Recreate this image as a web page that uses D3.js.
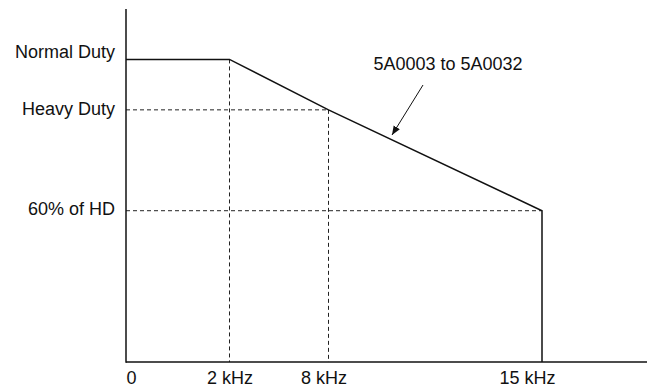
<!DOCTYPE html>
<html><head><meta charset="utf-8">
<script src="https://cdn.jsdelivr.net/npm/d3@7"></script>
<style>html,body{margin:0;padding:0;background:#fff;}svg{display:block;}</style>
</head><body>
<script>
// data
const freqKHz = [0, 2, 8, 15];
const tickLabels = ["0", "2 kHz", "8 kHz", "15 kHz"];
const curveFreq = [0, 2, 8, 15];
const curvePct = [120, 120, 100, 60];
const levelNames = ["Normal Duty", "Heavy Duty", "60% of HD"];
const levelPct = [120, 100, 60];
const seriesName = "5A0003 to 5A0032";

const W = 647, H = 391;
const svg = d3.select("body").append("svg").attr("width", W).attr("height", H);
const font = "Liberation Sans, Arial, sans-serif";

const x = d3.scaleLinear().domain([0, 2, 8, 15]).range([126, 229.5, 328.5, 542]);
const y = d3.scaleLinear().domain([0, 140]).range([362, 9]);

// dashed guide lines
const dash = svg.append("g").attr("stroke", "#222").attr("stroke-width", 1).attr("stroke-dasharray", "4,3").attr("fill", "none");
// vertical at 2 kHz from ND, at 8 kHz from HD
dash.append("line").attr("x1", x(2)).attr("x2", x(2)).attr("y1", y(curvePct[1])).attr("y2", y(0));
dash.append("line").attr("x1", x(8)).attr("x2", x(8)).attr("y1", y(curvePct[2])).attr("y2", y(0));
// horizontal HD and 60%
dash.append("line").attr("x1", x(0)).attr("x2", x(8)).attr("y1", y(levelPct[1])).attr("y2", y(levelPct[1]));
dash.append("line").attr("x1", x(0)).attr("x2", x(15)).attr("y1", y(levelPct[2])).attr("y2", y(levelPct[2]));

// curve
const pts = curveFreq.map((f, i) => [f, curvePct[i]]);
pts.push([15, 0]);
svg.append("path").datum(pts)
  .attr("fill", "none").attr("stroke", "#111").attr("stroke-width", 1.5)
  .attr("d", d3.line().x(d => x(d[0])).y(d => y(d[1])));

// axes
const xAxis = d3.axisBottom(x).tickValues(freqKHz).tickSize(0).tickFormat((d, i) => tickLabels[i]);
const gx = svg.append("g").attr("transform", `translate(0,${y(0)})`).call(xAxis);
gx.select(".domain").remove();
const tickDx = [0, 0, -5, -15];
gx.selectAll(".tick text")
  .attr("font-family", font).attr("font-size", 18).attr("fill", "#111")
  .attr("y", 0).attr("dy", 0)
  .attr("transform", "translate(0,22)")
  .attr("text-anchor", (d, i) => i === 0 ? "start" : "middle")
  .attr("dx", (d, i) => tickDx[i]);

svg.append("line").attr("x1", x(0)).attr("x2", W).attr("y1", y(0)).attr("y2", y(0))
  .attr("stroke", "#111").attr("stroke-width", 1.5);
svg.append("line").attr("x1", x(0)).attr("x2", x(0)).attr("y1", y(0) + 0.75).attr("y2", y(140))
  .attr("stroke", "#111").attr("stroke-width", 1.5);

// level labels
const labelDy = [-1, 5, 4];
svg.append("g").selectAll("text").data(levelNames).join("text")
  .attr("x", 115).attr("y", (d, i) => y(levelPct[i]) + labelDy[i])
  .attr("text-anchor", "end").attr("font-family", font).attr("font-size", 18).attr("fill", "#111")
  .text(d => d);

// series annotation
svg.append("text").attr("x", 448).attr("y", 70).attr("text-anchor", "middle")
  .attr("font-family", font).attr("font-size", 18).attr("fill", "#111").text(seriesName);

svg.append("defs").append("marker").attr("id", "ah")
  .attr("viewBox", "0 0 10 10").attr("refX", 10).attr("refY", 5)
  .attr("markerWidth", 9).attr("markerHeight", 9).attr("markerUnits", "userSpaceOnUse")
  .attr("orient", "auto")
  .append("path").attr("d", "M0,1 L10,5 L0,9 Z").attr("fill", "#111");
svg.append("line").attr("x1", 423).attr("y1", 85).attr("x2", 392).attr("y2", 135)
  .attr("stroke", "#111").attr("stroke-width", 1).attr("marker-end", "url(#ah)");
</script>
</body></html>
